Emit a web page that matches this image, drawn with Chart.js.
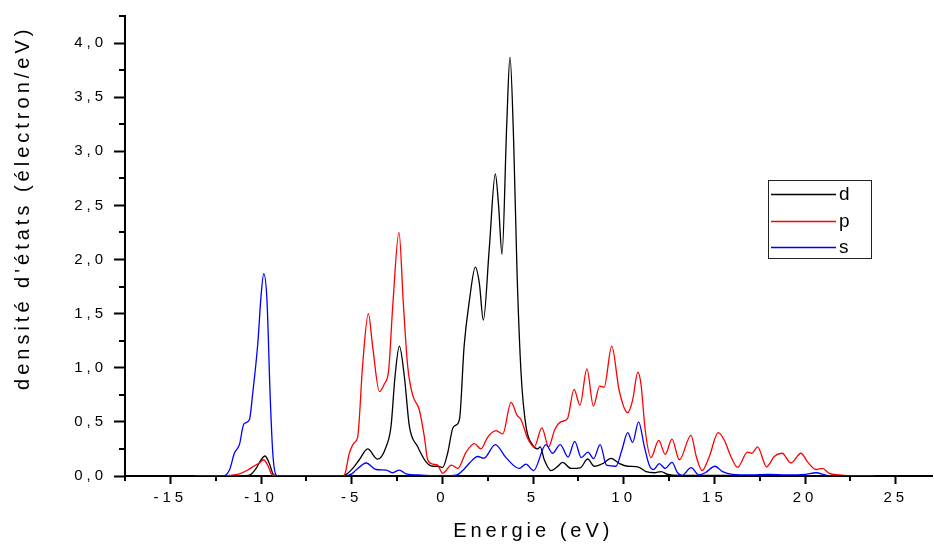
<!DOCTYPE html>
<html>
<head>
<meta charset="utf-8">
<script src="https://cdn.jsdelivr.net/npm/chart.js@4/dist/chart.umd.min.js"></script>
<style>
    html, body { margin: 0; padding: 0; background: #fff; }
    #wrap { width: 934px; height: 544px; }
</style>
</head>
<body>
<div id="wrap"><canvas id="dos-chart" width="934" height="544"></canvas></div>
<script>
// Densité d'états projetée (d, p, s)
const dE = [-13.6, -11.0, -10.6, -10.27, -10.0, -9.78, -9.55, -9.3, -9.0, -5.6, -5.3, -4.94, -4.58, -4.12, -3.57, -3.1, -2.83, -2.61, -2.37, -2.09, -1.82, -1.36, -0.9, -0.53, -0.26, 0.02, 0.29, 0.57, 0.75, 0.95, 1.2, 1.49, 1.82, 2.04, 2.26, 2.59, 2.92, 3.1, 3.29, 3.55, 3.73, 3.93, 4.12, 4.34, 4.61, 4.98, 5.25, 5.4, 5.62, 5.99, 6.3, 6.63, 7.1, 7.6, 8.01, 8.38, 8.84, 9.3, 9.77, 10.22, 10.77, 11.23, 11.69, 12.06, 12.43, 13.0, 16.0, 17.0, 23.8];
const dV = [0, 0, 0.01, 0.07, 0.15, 0.185, 0.12, 0.01, 0, 0, 0.015, 0.07, 0.15, 0.25, 0.155, 0.27, 0.46, 0.92, 1.2, 0.91, 0.46, 0.27, 0.13, 0.09, 0.09, 0.08, 0.21, 0.44, 0.47, 0.53, 1.2, 1.62, 1.93, 1.78, 1.44, 2.11, 2.79, 2.5, 2.05, 3.25, 3.87, 3.1, 1.87, 0.95, 0.46, 0.285, 0.25, 0.27, 0.15, 0.05, 0.08, 0.125, 0.07, 0.075, 0.157, 0.09, 0.115, 0.163, 0.115, 0.09, 0.085, 0.04, 0.03, 0.04, 0.015, 0.005, 0.005, 0, 0];

const pE = [-13.6, -12.0, -11.74, -11.19, -10.73, -10.36, -10.09, -9.87, -9.63, -9.39, -9.1, -5.6, -5.4, -5.13, -4.85, -4.67, -4.39, -4.08, -3.84, -3.47, -3.2, -2.96, -2.74, -2.39, -2.15, -1.91, -1.64, -1.27, -0.99, -0.81, -0.53, -0.26, 0.02, 0.5, 0.85, 1.31, 1.76, 2.13, 2.5, 2.96, 3.33, 3.79, 4.12, 4.34, 4.7, 5.07, 5.49, 5.86, 6.2, 6.54, 6.9, 7.26, 7.59, 7.97, 8.33, 8.67, 8.92, 9.34, 9.75, 10.22, 10.49, 10.78, 10.95, 11.19, 11.5, 11.93, 12.29, 12.66, 13.07, 13.71, 14.0, 14.32, 14.72, 15.21, 15.55, 15.91, 16.28, 16.83, 17.07, 17.38, 17.88, 18.3, 18.73, 19.22, 19.77, 20.14, 20.6, 20.96, 21.33, 21.9, 22.5, 23.8];
const pV = [0, 0, 0.005, 0.02, 0.055, 0.095, 0.12, 0.15, 0.1, 0.01, 0, 0, 0.01, 0.21, 0.31, 0.36, 1.04, 1.5, 1.19, 0.78, 0.85, 0.98, 1.56, 2.25, 1.59, 1.01, 0.75, 0.61, 0.36, 0.15, 0.11, 0.1, 0.025, 0.1, 0.07, 0.22, 0.3, 0.25, 0.36, 0.42, 0.39, 0.68, 0.56, 0.52, 0.35, 0.27, 0.445, 0.27, 0.43, 0.5, 0.53, 0.8, 0.655, 0.99, 0.645, 0.83, 0.82, 1.2, 0.79, 0.585, 0.7, 0.96, 0.85, 0.42, 0.17, 0.33, 0.2, 0.34, 0.15, 0.375, 0.18, 0.05, 0.18, 0.4, 0.33, 0.18, 0.08, 0.22, 0.21, 0.27, 0.085, 0.18, 0.21, 0.12, 0.21, 0.13, 0.06, 0.07, 0.025, 0.01, 0, 0];

const sE = [-13.6, -12.1, -11.74, -11.47, -11.19, -10.95, -10.64, -10.46, -10.18, -9.99, -9.85, -9.67, -9.5, -9.35, -9.17, -9.0, -5.4, -5.0, -4.76, -4.2, -3.66, -3.1, -2.75, -2.37, -2.0, -1.3, 0, 0.8, 1.12, 1.5, 1.95, 2.29, 2.92, 3.51, 4.24, 4.61, 5.03, 5.71, 6.08, 6.5, 6.93, 7.3, 7.66, 8.03, 8.34, 8.7, 9.05, 9.57, 9.9, 10.22, 10.49, 10.82, 11.14, 11.41, 11.65, 11.96, 12.29, 12.66, 12.97, 13.21, 13.72, 14.15, 14.5, 15.03, 15.45, 16.0, 17.0, 18.0, 19.0, 20.0, 20.6, 21.2, 21.6, 23.8];
const sV = [0, 0, 0.055, 0.21, 0.29, 0.48, 0.52, 0.76, 1.22, 1.68, 1.87, 1.62, 0.76, 0.21, 0.01, 0, 0, 0.02, 0.055, 0.12, 0.06, 0.055, 0.03, 0.055, 0.02, 0.01, 0, 0.01, 0.05, 0.12, 0.18, 0.165, 0.29, 0.17, 0.07, 0.11, 0.05, 0.29, 0.21, 0.29, 0.175, 0.32, 0.17, 0.22, 0.16, 0.29, 0.1, 0.09, 0.24, 0.4, 0.31, 0.5, 0.27, 0.1, 0.06, 0.115, 0.07, 0.125, 0.03, 0.005, 0.077, 0.01, 0.03, 0.09, 0.04, 0.015, 0.01, 0.015, 0.01, 0.015, 0.03, 0.005, 0, 0];

const xMajor = [-15, -10, -5, 0, 5, 10, 15, 20, 25];
const xMinor = [-17.5, -12.5, -7.5, -2.5, 2.5, 7.5, 12.5, 17.5, 22.5];
const yMajor = [0, 0.5, 1, 1.5, 2, 2.5, 3, 3.5, 4];
const yMinor = [0.25, 0.75, 1.25, 1.75, 2.25, 2.75, 3.25, 3.75, 4.25];

const toPoints = (xs, ys) => xs.map((x, i) => ({ x, y: ys[i] }));
const commaTick = (v) => v.toFixed(1).replace('.', ',');

Chart.defaults.font.family = '"Liberation Sans", Arial, sans-serif';
Chart.defaults.color = '#000';

// canvas letter spacing, the original labels are widely spaced
const spacing = {
    id: 'spacing',
    beforeUpdate: (chart) => { chart.ctx.letterSpacing = '4px'; },
    beforeDraw: (chart) => { chart.ctx.letterSpacing = '4px'; }
};

// short minor ticks outside the axes
const minorTicks = {
    id: 'minorTicks',
    afterDraw: (chart) => {
        const { ctx, scales: { x, y } } = chart;
        ctx.save();
        ctx.strokeStyle = '#000';
        ctx.lineWidth = 2;
        ctx.beginPath();
        xMinor.forEach(v => {
            const px = Math.round(x.getPixelForValue(v));
            ctx.moveTo(px, y.bottom);
            ctx.lineTo(px, y.bottom + 5);
        });
        yMinor.forEach(v => {
            const py = Math.round(y.getPixelForValue(v));
            ctx.moveTo(x.left - 6, py);
            ctx.lineTo(x.left, py);
        });
        ctx.stroke();
        ctx.restore();
    }
};

// boxed legend inside the plot, like the original
const boxLegend = {
    id: 'boxLegend',
    afterDraw: (chart) => {
        const ctx = chart.ctx;
        const bx = 768, by = 180, bw = 103, bh = 78;
        ctx.save();
        ctx.fillStyle = '#fff';
        ctx.fillRect(bx, by, bw, bh);
        ctx.strokeStyle = '#222';
        ctx.lineWidth = 1;
        ctx.strokeRect(bx + 0.5, by + 0.5, bw, bh);
        ctx.font = '19px "Liberation Sans", Arial, sans-serif';
        ctx.letterSpacing = '0px';
        ctx.textBaseline = 'middle';
        ctx.textAlign = 'left';
        chart.data.datasets.forEach((ds, i) => {
            const ly = Math.round(194 + i * 26.5) + 0.5;
            ctx.strokeStyle = ds.borderColor;
            ctx.lineWidth = 1.3;
            ctx.beginPath();
            ctx.moveTo(771, ly);
            ctx.lineTo(836, ly);
            ctx.stroke();
            ctx.fillStyle = '#000';
            ctx.fillText(ds.label, 839, ly);
        });
        ctx.restore();
    }
};

new Chart(document.getElementById('dos-chart'), {
    type: 'line',
    data: {
        datasets: [
            { label: 'd', data: toPoints(dE, dV), borderColor: '#000000', order: 2 },
            { label: 'p', data: toPoints(pE, pV), borderColor: '#ff0000', order: 1 },
            { label: 's', data: toPoints(sE, sV), borderColor: '#0000ff', order: 0 }
        ]
    },
    options: {
        responsive: false,
        animation: false,
        devicePixelRatio: 1,
        layout: { padding: { left: 0, top: 15, right: 2, bottom: 0 } },
        elements: {
            point: { radius: 0 },
            line: { borderWidth: 1.3, cubicInterpolationMode: 'monotone', fill: false }
        },
        plugins: {
            legend: { display: false },
            tooltip: { enabled: false }
        },
        scales: {
            x: {
                type: 'linear',
                min: -17.5,
                max: 27,
                afterBuildTicks: (s) => { s.ticks = xMajor.map(v => ({ value: v })); },
                afterFit: (s) => { s.height = 68; },
                border: { display: true, color: '#000', width: 2 },
                grid: { drawOnChartArea: false, drawTicks: true, tickLength: 8, tickWidth: 2, tickColor: '#000' },
                ticks: { font: { size: 15 }, padding: 5, maxRotation: 0, autoSkip: false },
                title: {
                    display: true,
                    text: ' Energie (eV)',
                    font: { size: 20 },
                    padding: { top: 4, bottom: 1 }
                }
            },
            y: {
                type: 'linear',
                min: 0,
                max: 4.25,
                afterBuildTicks: (s) => { s.ticks = yMajor.map(v => ({ value: v })); },
                afterFit: (s) => { s.width = 125; },
                border: { display: true, color: '#000', width: 2 },
                grid: { drawOnChartArea: false, drawTicks: true, tickLength: 11, tickWidth: 2, tickColor: '#000' },
                ticks: { font: { size: 15 }, padding: 7, callback: commaTick },
                title: {
                    display: true,
                    text: "densité d'états (électron/eV) ",
                    align: 'end',
                    font: { size: 20 },
                    padding: { top: 11, bottom: 0 }
                }
            }
        }
    },
    plugins: [spacing, minorTicks, boxLegend]
});
</script>
</body>
</html>
